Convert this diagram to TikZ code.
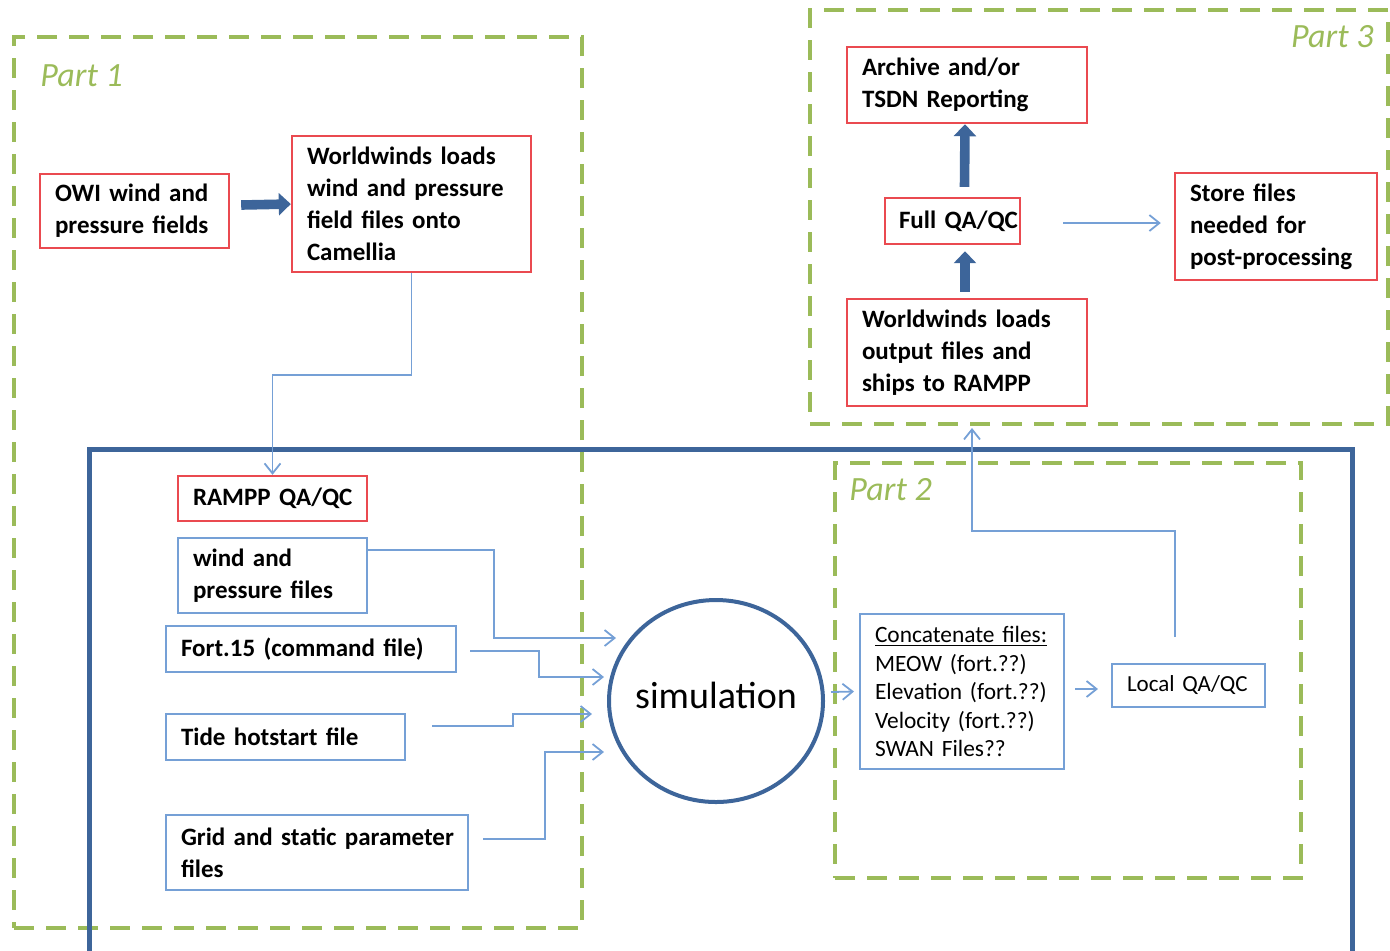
\documentclass[tikz,border=0pt]{standalone}
\usepackage{fontspec}
\setmainfont{Carlito}
\usetikzlibrary{calc,shapes.geometric,arrows.meta}

\definecolor{partgreen}{HTML}{9BBB59}
\definecolor{boxred}{HTML}{EA4A50}
\definecolor{linkblue}{HTML}{75A0D6}
\definecolor{frameblue}{HTML}{3D659A}

\tikzset{
  redbox/.style={draw=boxred, line width=1.2pt, align=left, inner xsep=1.5pt, inner ysep=0pt,
    execute at begin node={\leftskip=6pt\hyphenpenalty=10000},
    font=\fontsize{12.5}{16}\selectfont\bfseries},
  bluebox/.style={redbox, draw=linkblue, line width=1pt},
  partbox/.style={draw=partgreen, line width=2pt, dash pattern=on 10pt off 6pt, inner sep=0pt},
  partlabel/.style={text=partgreen, inner sep=0pt, font=\fontsize{17}{20}\selectfont\itshape},
  fatarrow/.style={draw=frameblue, line width=4.8pt, -{Triangle[length=6pt,width=11pt]}},
  thinarrow/.style={draw=linkblue, line width=0.9pt, -{Straight Barb[length=5pt,width=8pt]}}
}

\begin{document}
\begin{tikzpicture}[x=0.5pt,y=-0.5pt]
  \useasboundingbox (0,0) rectangle (1390,950);

  % the three parts
  \node[partbox, minimum width=284pt, minimum height=445.5pt] (part1) at (298,482.5) {};
  \node[partbox, minimum width=233pt, minimum height=207.5pt] (part2) at (1068,670.5) {};
  \node[partbox, minimum width=289pt, minimum height=207pt] (part3) at (1099,217) {};
  \node[partlabel, anchor=west] (p1label) at ($(part1.north west)+(28,41)$) {Part 1};
  \node[partlabel, anchor=west] (p2label) at ($(part2.north west)+(16,29)$) {Part 2};
  \node[partlabel, anchor=east] (p3label) at ($(part3.north east)+(-16,29)$) {Part 3};

  % run frame
  \draw[frameblue, line width=2.5pt] (89,962) |- (1352,449) -- (1352,962);

  % part 1
  \node[redbox, text width=91.5pt, minimum height=37pt] (owi) at (134.5,211) {OWI wind and\\pressure fields};
  \node[redbox, text width=116.5pt, minimum height=68pt] (wwload) at (411.5,204)
    {Worldwinds loads\\wind and pressure\\field files onto\\Camellia};
  \node[redbox, text width=91.5pt, minimum height=22.5pt] (rampp) at (272.5,498.5) {RAMPP QA/QC};
  \node[bluebox, text width=91.5pt, minimum height=37.5pt] (windfiles) at (272.5,575.5) {wind and\\pressure files};
  \node[bluebox, text width=142pt, minimum height=23pt] (fort) at (311,649) {Fort.15 (command file)};
  \node[bluebox, text width=116.5pt, minimum height=23pt] (tide) at (285.5,737) {Tide hotstart file};
  \node[bluebox, text width=148pt, minimum height=37.5pt] (grid) at (317,852.5) {Grid and static parameter\\files};

  % simulation and part 2
  \node[ellipse, draw=frameblue, line width=2pt, minimum width=107pt, minimum height=101pt, inner sep=0pt,
    label={[font=\fontsize{19}{22}\selectfont, yshift=3pt]center:simulation}] (sim) at (716,701) {};
  \node[bluebox, text width=99pt, minimum height=77.5pt, font=\fontsize{11.7}{14.25}\selectfont] (concat) at (962,691.5)
    {\underline{Concatenate files:}\\MEOW (fort.??)\\Elevation (fort.??)\\Velocity (fort.??)\\SWAN Files??};
  \node[bluebox, text width=73.5pt, minimum height=21.5pt, font=\fontsize{11.5}{14}\selectfont] (localqc) at (1188.5,685.5) {Local QA/QC};

  % part 3
  \node[redbox, text width=117pt, minimum height=38pt] (archive) at (967,85) {Archive and/or\\TSDN Reporting};
  \node[redbox, text width=64.5pt, minimum height=23pt, execute at begin node={\leftskip=5.5pt}] (fullqc) at (952.5,221)
    {\mbox{Full QA/QC}};
  \node[redbox, text width=98pt, minimum height=53.5pt] (store) at (1276,226.5) {Store files\\needed for\\post-processing};
  \node[redbox, text width=117pt, minimum height=53.5pt] (wwout) at (967,352.5)
    {Worldwinds loads\\output files and\\ships to RAMPP};

  % connectors
  \draw[fatarrow] ($(owi.east)+(11,-6)$) -- (wwload.west);
  \draw[fatarrow] ($(fullqc.north)+(12,-10)$) -- ($(archive.south)+(-2,0)$);
  \draw[fatarrow] ($(wwout.north)+(-2,-6)$) -- ($(fullqc.south)+(12.5,6)$);

  \draw[thinarrow] (wwload.south) -- ++(0,102) -| (rampp.north);
  \draw[thinarrow] ($(windfiles.north east)+(0,13)$) -- ++(126,0) |- ($(sim.west)+(9,-63)$);
  \draw[thinarrow] ($(fort.east)+(13,2)$) -- ++(69,0) |- ($(sim.west)+(-3,-24)$);
  \draw[thinarrow] ($(tide.east)+(26,-11)$) -- ++(81,0) |- ($(sim.west)+(-15,13)$);
  \draw[thinarrow] ($(grid.east)+(14,-13.5)$) -- ++(62,0) |- ($(sim.west)+(-3,51)$);
  \draw[thinarrow] ($(sim.east)+(6,-9)$) -- ($(concat.west)+(-5,0)$);
  \draw[thinarrow] ($(concat.east)+(10,-2.5)$) -- ($(localqc.west)+(-13,3.5)$);
  \draw[thinarrow] ($(localqc.north)+(-13.5,-26)$) -- ++(0,-106) -| ($(part3.south)+(-127,2)$);
  \draw[thinarrow] ($(fullqc.east)+(42,2)$) -- ($(store.west)+(-13,-3.5)$);
\end{tikzpicture}
\end{document}
